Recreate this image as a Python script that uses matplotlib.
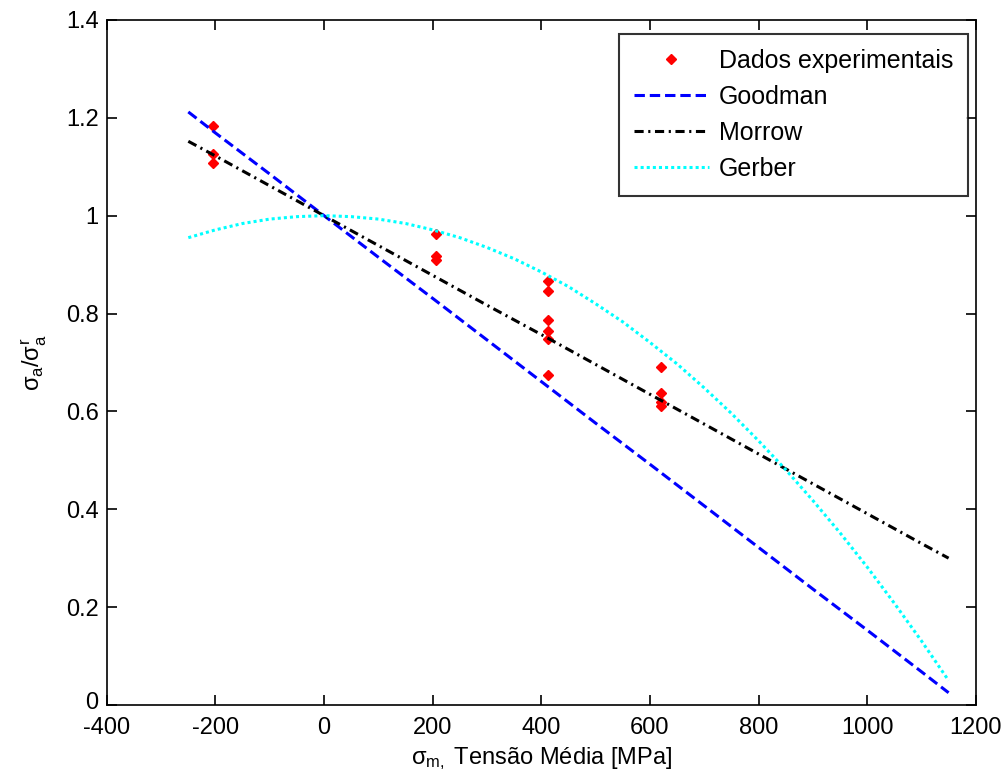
import matplotlib
matplotlib.use("Agg")
import matplotlib.pyplot as plt
import matplotlib.transforms as mtransforms

plt.rcParams['font.family'] = ['Liberation Sans', 'DejaVu Sans']
plt.rcParams['mathtext.fontset'] = 'custom'
plt.rcParams['mathtext.rm'] = 'Liberation Sans'
plt.rcParams['mathtext.it'] = 'Liberation Sans'
plt.rcParams['axes.unicode_minus'] = False

# Experimental data
exp_x = [-205, -205, -205, 207, 207, 207, 412, 412, 412, 412, 412, 412, 620, 620, 620, 620]
exp_y = [1.183, 1.127, 1.107, 0.963, 0.918, 0.910, 0.867, 0.847, 0.787, 0.764, 0.748, 0.674,
         0.691, 0.638, 0.620, 0.612]

# Straight-line criteria
line_x = [-250, -200, -100, 0, 100, 200, 300, 400, 500, 600, 700, 800, 900, 1000, 1100, 1150]
goodman_y = [1.212, 1.169, 1.085, 1.0, 0.915, 0.831, 0.746, 0.661, 0.576, 0.492, 0.407, 0.322,
             0.237, 0.153, 0.068, 0.025]
morrow_y = [1.152, 1.122, 1.061, 1.0, 0.939, 0.878, 0.817, 0.757, 0.696, 0.635, 0.574, 0.513,
            0.452, 0.391, 0.330, 0.300]

# Gerber parabola
gerber_x = [-250, -200, -150, -100, -50, 0, 50, 100, 150, 200, 250, 300, 350, 400, 450, 500,
            550, 600, 650, 700, 750, 800, 850, 900, 950, 1000, 1050, 1100, 1150]
gerber_y = [0.955, 0.971, 0.984, 0.993, 0.998, 1.000, 0.998, 0.993, 0.984, 0.971, 0.955, 0.935,
            0.912, 0.885, 0.855, 0.820, 0.783, 0.741, 0.697, 0.648, 0.596, 0.540, 0.481, 0.418,
            0.352, 0.282, 0.208, 0.131, 0.050]

xticks = [-400, -200, 0, 200, 400, 600, 800, 1000, 1200]
yticks = [0, 0.2, 0.4, 0.6, 0.8, 1.0, 1.2, 1.4]
ytick_labels = ['0', '0.2', '0.4', '0.6', '0.8', '1', '1.2', '1.4']

fig = plt.figure(figsize=(10.08, 7.82), dpi=100)
ax = fig.add_axes([0.106, 0.0985, 0.862, 0.876])

ax.plot(exp_x, exp_y, linestyle='none', marker='D', color='red', markersize=5,
        label='Dados experimentais')
ax.plot(line_x, goodman_y, color='blue', lw=2.2, dashes=(3.4, 1.6), label='Goodman')
ax.plot(line_x, morrow_y, color='black', lw=2.2, dashes=(3.0, 1.5, 0.7, 1.5), label='Morrow')
ax.plot(gerber_x, gerber_y, color='cyan', lw=2.2, dashes=(1.0, 1.0), label='Gerber')

ax.set_xlim(-400, 1200)
ax.set_ylim(0, 1.4)
ax.set_xticks(xticks)
ax.set_yticks(yticks)
ax.set_yticklabels(ytick_labels)
ax.tick_params(direction='in', top=True, right=True, length=7, width=1.2, labelsize=17, pad=6)
ax.tick_params(axis='x', pad=9)
for s in ax.spines.values():
    s.set_linewidth(1.2)

# nudge the "0" y tick label up slightly so it does not collide with "-400"
zero_lbl = ax.get_yticklabels()[0]
zero_lbl.set_transform(zero_lbl.get_transform() +
                       mtransforms.ScaledTranslation(0, 3 / 72, fig.dpi_scale_trans))

ax.set_xlabel(r'$\sigma_{m,}$ Tensão Média [MPa]', fontsize=17, labelpad=4)
ax.set_ylabel(r'$\sigma_a/\sigma_a^r$', fontsize=17, labelpad=12)

leg = ax.legend(loc='upper right', bbox_to_anchor=(0.991, 0.980), fontsize=18, frameon=True,
                fancybox=False, edgecolor='black', handlelength=3.0, labelspacing=0.48,
                borderpad=0.6, handletextpad=0.4, borderaxespad=0.0)
leg.get_frame().set_linewidth(1.5)

fig.savefig('out.png', dpi=100)
